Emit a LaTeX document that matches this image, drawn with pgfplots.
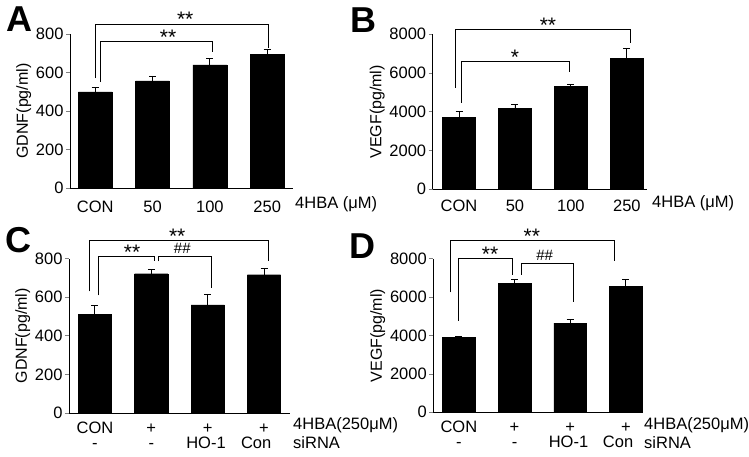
\documentclass[border=0pt]{standalone}
\usepackage{fontspec}
\setmainfont{Liberation Sans}
\usepackage{pgfplots}
\pgfplotsset{compat=1.18}

\pgfplotsset{
  panel/.style={
    scale only axis, anchor=south west, clip=false,
    axis lines=left, axis line style={-, line width=0.8pt},
    ymin=0,
    xtick={0,1,2,3}, major x tick style={draw=none},
    ytick pos=left, tick align=outside, major tick length=4pt,
    major y tick style={line width=0.8pt},
    tick label style={font=\fontsize{16.5}{19}\selectfont},
    label style={font=\fontsize{16}{19}\selectfont},
    /pgf/number format/assume math mode=true,
    /pgf/number format/set thousands separator={},
    xticklabel style={anchor=base, yshift=-20pt},
    yticklabel style={xshift=1pt},
    ylabel style={yshift=-2pt},
  },
  bars/.style={ybar, fill=black, draw=black, bar width=0.59,
    error bars/.cd, y dir=plus, y explicit,
    error bar style={line width=0.9pt},
    error mark options={rotate=90, mark size=3.5pt, line width=0.9pt}},
}
\tikzset{brk/.style={line width=0.9pt},
  row2/.style={anchor=base, yshift=-35pt},
  star/.style={anchor=base, inner sep=0, yshift=-3pt, font=\fontsize{21}{22}\selectfont},
  hash/.style={anchor=base, inner sep=0, yshift=3pt, font=\fontsize{15}{18}\selectfont},
  letter/.style={anchor=base west, inner sep=0, font=\fontsize{36}{40}\selectfont\bfseries}}
\newcommand{\st}[1]{\fontsize{16.5}{19}\selectfont #1}

\begin{document}
\begin{tikzpicture}
\path[use as bounding box] (0pt,0pt) rectangle (749pt,456pt);

% A
\begin{axis}[panel, at={(70pt,268pt)}, width=223pt, height=154pt,
  xmin=-0.44, xmax=3.45, ymax=800, ytick={0,200,...,800},
  xticklabels={CON,50,100,250}, ylabel={GDNF(pg/ml)}]
\addplot[bars] table[x=x, y=y, y error=e] {
x y e
0 500 20
1 557 25
2 640 32
3 696 26
};
\draw[brk] (axis cs:0,571) -- (axis cs:0,852) -- (axis cs:3.03,852) -- (axis cs:3.03,728);
\draw[brk] (axis cs:0.09,550) -- (axis cs:0.09,760) -- (axis cs:2.05,760) -- (axis cs:2.05,706);
\node[star] at (axis cs:1.57,852) {**};
\node[star] at (axis cs:1.27,760) {**};
\end{axis}

% B
\begin{axis}[panel, at={(432.7pt,266.7pt)}, width=214.3pt, height=155pt,
  xmin=-0.47, xmax=3.36, ymax=8000, ytick={0,2000,...,8000},
  xticklabel style={yshift=2pt},
  xticklabels={CON,50,100,250}, ylabel={VEGF(pg/ml)}]
\addplot[bars] table[x=x, y=y, y error=e] {
x y e
0 3716 325
1 4180 222
2 5296 123
3 6741 536
};
\draw[brk] (axis cs:-0.07,5244) -- (axis cs:-0.07,8258) -- (axis cs:3.07,8258) -- (axis cs:3.07,7535);
\draw[brk] (axis cs:0.04,4470) -- (axis cs:0.04,6622) -- (axis cs:1.98,6622) -- (axis cs:1.98,6070);
\node[star] at (axis cs:1.59,8258) {**};
\node[star] at (axis cs:1.0,6622) {*};
\end{axis}

% C
\begin{axis}[panel, at={(69pt,43pt)}, width=221pt, height=154.3pt,
  xmin=-0.46, xmax=3.46, ymax=800, ytick={0,200,...,800},
  xticklabel style={yshift=4pt},
  xticklabels={CON,+,+,+}, ylabel={GDNF(pg/ml)}]
\addplot[bars] table[x=x, y=y, y error=e] {
x y e
0 510 48
1 722 21
2 561 56
3 717 31
};
\draw[brk] (axis cs:-0.1,631) -- (axis cs:-0.1,893) -- (axis cs:3.07,893) -- (axis cs:3.07,786);
\draw[brk] (axis cs:0.07,610) -- (axis cs:0.07,810) -- (axis cs:1.05,810) -- (axis cs:1.05,786);
\draw[brk] (axis cs:1.12,786) -- (axis cs:1.12,810) -- (axis cs:2.07,810) -- (axis cs:2.07,648);
\node[star] at (axis cs:1.46,893) {**};
\node[star] at (axis cs:0.66,810) {**};
\node[hash] at (axis cs:1.55,810) {\#\#};
\node[row2] at (axis cs:0,0) {\st{-}};
\node[row2] at (axis cs:1,0) {\st{-}};
\node[row2] at (axis cs:1.97,0) {\st{HO-1}};
\node[row2] at (axis cs:2.86,0) {\st{Con}};
\end{axis}

% D
\begin{axis}[panel, at={(433.3pt,43.7pt)}, width=208.7pt, height=153.6pt,
  xmin=-0.46, xmax=3.29, ymax=8000, ytick={0,2000,...,8000},
  xticklabel style={yshift=4pt},
  xticklabels={CON,+,+,+}, ylabel={VEGF(pg/ml)}]
\addplot[bars] table[x=x, y=y, y error=e] {
x y e
0 3906 52
1 6734 209
2 4651 208
3 6563 380
};
\draw[brk] (axis cs:-0.15,6250) -- (axis cs:-0.15,8938) -- (axis cs:2.8,8938) -- (axis cs:2.8,7865);
\draw[brk] (axis cs:0,4771) -- (axis cs:0,8000) -- (axis cs:0.96,8000) -- (axis cs:0.96,7167);
\draw[brk] (axis cs:1.13,7167) -- (axis cs:1.13,7776) -- (axis cs:2.05,7776) -- (axis cs:2.05,5745);
\node[star] at (axis cs:1.31,8938) {**};
\node[star] at (axis cs:0.56,8000) {**};
\node[hash] at (axis cs:1.54,7776) {\#\#};
\node[row2] at (axis cs:0,0) {\st{-}};
\node[row2] at (axis cs:1,0) {\st{-}};
\node[row2] at (axis cs:1.97,0) {\st{HO-1}};
\node[row2] at (axis cs:2.86,0) {\st{Con}};
\end{axis}

% side labels
\node[anchor=base west, inner sep=0] at (295pt,248pt) {\st{4HBA (μM)}};
\node[anchor=base west, inner sep=0] at (652pt,249pt) {\st{4HBA (μM)}};
\node[anchor=base west, inner sep=0] at (293pt,27pt) {\st{4HBA(250μM)}};
\node[anchor=base west, inner sep=0] at (293pt,8pt) {\st{siRNA}};
\node[anchor=base west, inner sep=0] at (644pt,27pt) {\st{4HBA(250μM)}};
\node[anchor=base west, inner sep=0] at (644pt,8pt) {\st{siRNA}};

% panel letters
\node[letter] at (6pt,424pt) {A};
\node[letter] at (350pt,423pt) {B};
\node[letter] at (5pt,204pt) {C};
\node[letter] at (349pt,198pt) {D};
\end{tikzpicture}
\end{document}
